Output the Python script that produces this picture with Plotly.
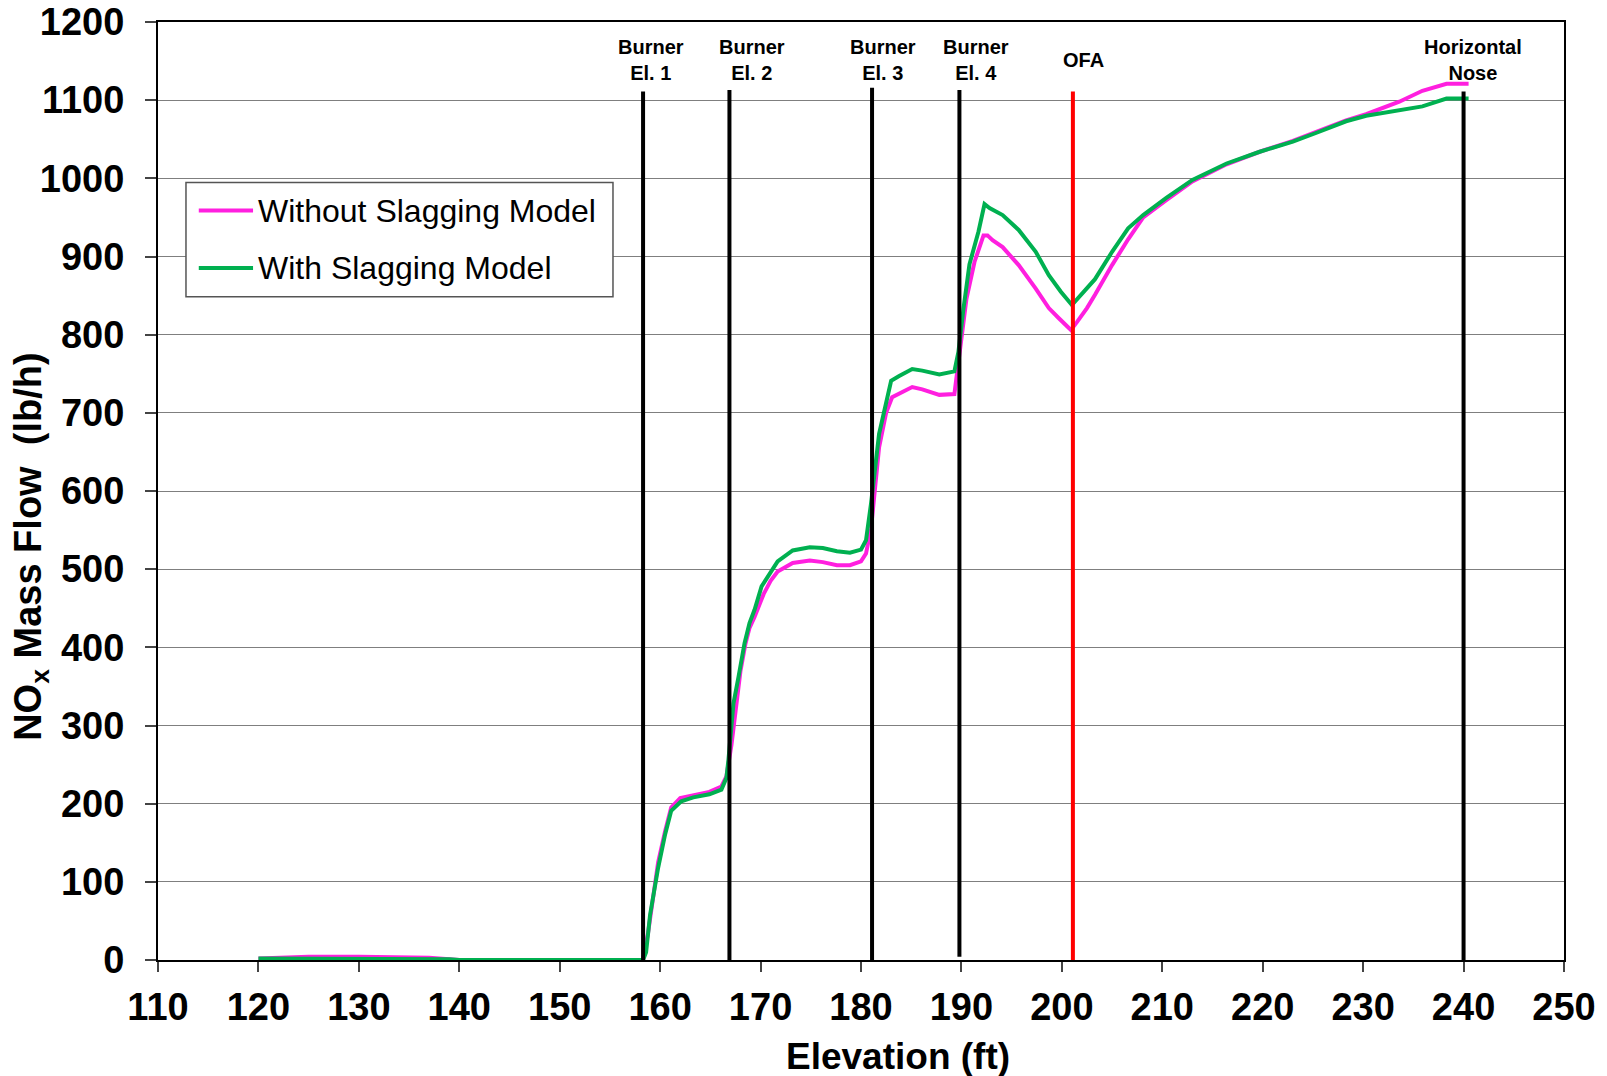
import plotly.graph_objects as go

# ---- data ----
elev_without = [120, 122, 125, 130, 135, 137, 139, 140, 150, 158.3, 158.8, 159.3, 159.8, 160.5, 161.1,
                162.0, 163.3, 164.9, 166.1, 166.6, 167.1, 167.5, 168.0, 168.5, 168.9, 169.4, 170.3,
                171.0, 171.7, 173.2, 174.9, 176.2, 177.6, 178.9, 180.0, 180.5, 181.0, 181.8, 182.5,
                183.1, 184.1, 185.1, 186.1, 187.8, 189.3, 189.8, 190.5, 191.3, 192.2, 192.6, 193.1,
                194.1, 195.7, 197.4, 198.7, 199.7, 200.9, 201.5, 202.5, 203.3, 205.0, 206.6, 208.1,
                210.4, 213.0, 216.4, 219.7, 223.0, 225.3, 228.3, 230.3, 233.6, 235.9, 238.3, 240.5]
nox_without = [2, 3, 4, 4, 3, 3, 1, 0, 0, 0, 35, 80, 125, 165, 195,
               207, 211, 215, 222, 235, 275, 320, 370, 405, 425, 439, 468,
               485, 497, 508, 511, 509, 505, 505, 510, 520, 552, 656, 700,
               720, 726, 733, 730, 723, 724, 774, 846, 893, 927, 927, 921,
               912, 889, 859, 834, 821, 806, 816, 834, 851, 889, 922, 950,
               972, 996, 1018, 1034, 1048, 1059, 1074, 1082, 1098, 1112, 1121, 1121]

elev_with = [120, 125, 130, 135, 137, 139, 140, 150, 158.3, 158.6, 159.0, 159.8, 160.5, 161.1, 162.1,
             163.3, 164.9, 166.1, 166.6, 166.8, 167.3, 167.8, 168.4, 168.9, 169.4, 170.1, 170.9,
             171.7, 173.2, 174.9, 176.2, 177.6, 178.9, 180.0, 180.5, 181.0, 181.8, 183.0, 183.8,
             185.1, 186.1, 187.8, 189.3, 189.7, 190.2, 190.8, 191.7, 192.3, 192.8, 194.1, 195.7,
             197.4, 198.7, 199.9, 201.0, 202.4, 203.3, 205.0, 206.6, 208.1, 210.4, 213.0, 216.4,
             219.7, 223.0, 225.3, 228.3, 230.3, 233.6, 235.9, 238.3, 240.5]
nox_with = [2, 2, 2, 2, 2, 1, 0, 0, 0, 10, 58, 118, 161, 191, 203,
            208, 212, 218, 233, 256, 328, 362, 405, 431, 448, 478, 495,
            510, 524, 528, 527, 523, 521, 525, 537, 584, 673, 741, 747,
            756, 754, 749, 753, 778, 833, 890, 932, 967, 962, 953, 934,
            906, 876, 855, 838, 859, 871, 906, 936, 953, 975, 998, 1019,
            1034, 1047, 1058, 1073, 1080, 1087, 1092, 1102, 1102]

marker_labels = ["Burner<br>El. 1", "Burner<br>El. 2", "Burner<br>El. 3", "Burner<br>El. 4",
                 "OFA", "Horizontal<br>Nose"]
marker_elev = [158.3, 166.9, 181.1, 189.8, 201.1, 240.0]

x_ticks = list(range(110, 251, 10))
y_ticks = list(range(0, 1201, 100))

series_names = ["Without Slagging Model", "With Slagging Model"]

# ---- styles ----
MAGENTA = "#FF1FDF"
GREEN = "#00B050"
FONT = "Liberation Sans, Arial, sans-serif"
marker_colors = ["black", "black", "black", "black", "#FF0000", "black"]
marker_tops = [1111, 1113, 1116, 1113, 1111, 1111]
marker_bottoms = [0, 0, 0, 4, 0, 0]
label_xshift = [8, 23, 11, 17, 11, 9]

fig = go.Figure()
fig.add_trace(go.Scatter(x=elev_without, y=nox_without, mode="lines", name=series_names[0],
                         line=dict(color=MAGENTA, width=4), showlegend=False))
fig.add_trace(go.Scatter(x=elev_with, y=nox_with, mode="lines", name=series_names[1],
                         line=dict(color=GREEN, width=4), showlegend=False))

for e, c, top, bot in zip(marker_elev, marker_colors, marker_tops, marker_bottoms):
    fig.add_trace(go.Scatter(x=[e, e], y=[bot, top], mode="lines",
                             line=dict(color=c, width=4), showlegend=False, hoverinfo="skip"))

for lab, e, xs in zip(marker_labels, marker_elev, label_xshift):
    fig.add_annotation(x=e, y=0.959, xref="x", yref="paper", text=f"<b>{lab}</b>",
                       showarrow=False, xshift=xs, xanchor="center", yanchor="middle",
                       font=dict(family=FONT, size=20, color="black"), align="center")

# manual legend
fig.add_shape(type="rect", xref="paper", yref="paper", x0=0.0199, x1=0.3236, y0=0.7072, y1=0.8288,
              line=dict(color="#555555", width=1.5), fillcolor="white", layer="above")
for name, col, yy in zip(series_names, [MAGENTA, GREEN], [0.799, 0.7378]):
    fig.add_shape(type="line", xref="paper", yref="paper", x0=0.0290, x1=0.0676, y0=yy, y1=yy,
                  line=dict(color=col, width=4), layer="above")
    fig.add_annotation(x=0.0697, y=yy, xref="paper", yref="paper", text=name, showarrow=False,
                       xanchor="left", yanchor="middle",
                       font=dict(family=FONT, size=32, color="black"))

# axis titles
fig.add_annotation(x=0.526, y=-0.1024, xref="paper", yref="paper", text="<b>Elevation (ft)</b>",
                   showarrow=False, xanchor="center", yanchor="middle",
                   font=dict(family=FONT, size=37, color="black"))
fig.add_annotation(x=-0.0903, y=0.4405, xref="paper", yref="paper",
                   text="<b>NO<sub>x</sub> Mass Flow  (lb/h)</b>", textangle=-90,
                   showarrow=False, xanchor="center", yanchor="middle",
                   font=dict(family=FONT, size=38, color="black"))

fig.update_layout(
    width=1607, height=1076, autosize=False,
    margin=dict(l=158, r=43, t=22, b=116),
    plot_bgcolor="white", paper_bgcolor="white",
    font=dict(family=FONT, color="black"),
)
fig.update_xaxes(range=[110, 250], tickvals=x_ticks, ticktext=[f"<b>{v}</b>" for v in x_ticks],
                 automargin=False,
                 showgrid=False, zeroline=False, showline=True, linecolor="black", linewidth=2,
                 mirror=True, ticks="outside", ticklen=10, tickcolor="#444444", tickwidth=1.5,
                 ticklabelstandoff=2, tickfont=dict(family=FONT, size=38, color="black"))
fig.update_yaxes(range=[0, 1200], tickvals=y_ticks, ticktext=[f"<b>{v}</b>" for v in y_ticks],
                 automargin=False,
                 showgrid=True, gridcolor="#7f7f7f", gridwidth=1.3, zeroline=False,
                 showline=True, linecolor="black", linewidth=2, mirror=True,
                 ticks="outside", ticklen=11, tickcolor="#444444", tickwidth=1.5,
                 ticklabelstandoff=13, tickfont=dict(family=FONT, size=38, color="black"))

fig.write_html("out.html", config={"displayModeBar": False},
               post_script="document.body.style.margin='0';document.body.style.overflow='hidden';")
